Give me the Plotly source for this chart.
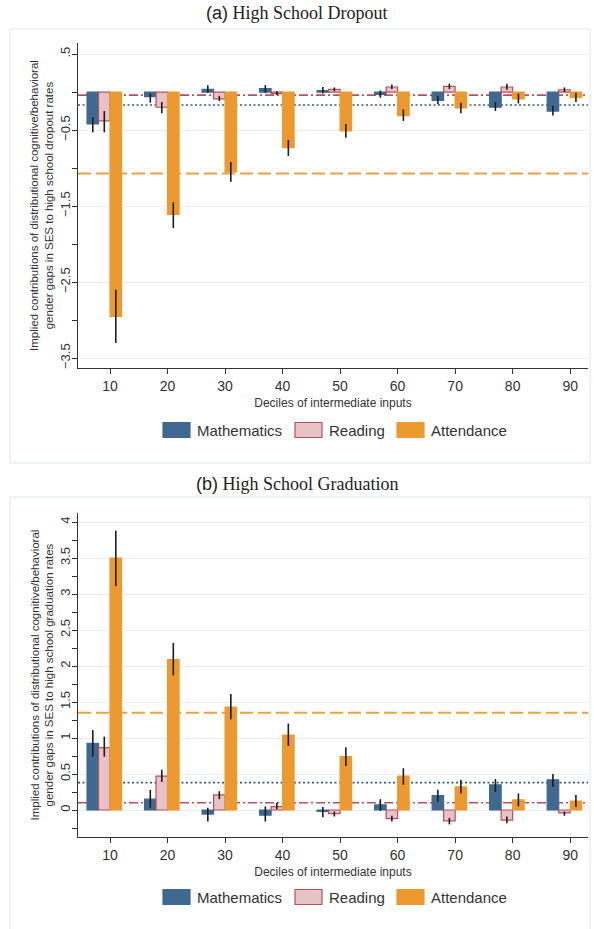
import plotly.graph_objects as go

# ---------------- data ----------------
deciles = [10, 20, 30, 40, 50, 60, 70, 80, 90]
series_names = ["Mathematics", "Reading", "Attendance"]

# (a) High School Dropout
math_a = [-0.42, -0.06, 0.035, 0.045, 0.02, -0.03, -0.11, -0.20, -0.25]
math_a_lo = [-0.53, -0.14, -0.01, -0.01, -0.02, -0.075, -0.16, -0.25, -0.31]
math_a_hi = [-0.33, -0.02, 0.09, 0.09, 0.065, 0.02, -0.05, -0.13, -0.18]
read_a = [-0.38, -0.20, -0.09, -0.02, 0.035, 0.066, 0.075, 0.066, 0.03]
read_a_lo = [-0.53, -0.28, -0.12, -0.04, 0.01, 0.04, 0.04, 0.03, 0.0]
read_a_hi = [-0.25, -0.13, -0.05, 0.01, 0.06, 0.10, 0.11, 0.11, 0.06]
att_a = [-2.95, -1.61, -1.05, -0.73, -0.51, -0.31, -0.21, -0.09, -0.075]
att_a_lo = [-3.30, -1.79, -1.18, -0.84, -0.60, -0.38, -0.28, -0.15, -0.13]
att_a_hi = [-2.60, -1.45, -0.92, -0.63, -0.42, -0.23, -0.14, -0.02, -0.01]
refs_a = [-0.17, -0.04, -1.07]  # Mathematics, Reading, Attendance

# (b) High School Graduation
math_b = [0.925, 0.15, -0.056, -0.07, -0.02, 0.07, 0.20, 0.35, 0.42]
math_b_lo = [0.74, 0.03, -0.16, -0.16, -0.10, -0.01, 0.115, 0.25, 0.32]
math_b_hi = [1.11, 0.28, 0.03, 0.05, 0.04, 0.15, 0.28, 0.43, 0.50]
read_b = [0.865, 0.47, 0.21, 0.046, -0.05, -0.12, -0.15, -0.14, -0.04]
read_b_lo = [0.74, 0.39, 0.15, 0.01, -0.09, -0.16, -0.20, -0.185, -0.08]
read_b_hi = [1.02, 0.56, 0.26, 0.10, -0.02, -0.08, -0.11, -0.09, -0.02]
att_b = [3.50, 2.09, 1.43, 1.04, 0.74, 0.47, 0.32, 0.14, 0.125]
att_b_lo = [3.11, 1.87, 1.26, 0.89, 0.61, 0.35, 0.23, 0.05, 0.04]
att_b_hi = [3.88, 2.32, 1.61, 1.20, 0.87, 0.58, 0.42, 0.23, 0.21]
refs_b = [0.38, 0.10, 1.35]

ytick_a_vals = [0.5, -0.5, -1.5, -2.5, -3.5]
ytick_a_text = [".5", "\u22120.5", "\u22121.5", "\u22122.5", "\u22123.5"]
ytick_a_minor = [0, -1, -2, -3]
ytick_b_vals = [0, 0.5, 1, 1.5, 2, 2.5, 3, 3.5, 4]
ytick_b_text = ["0", "0.5", "1", "1.5", "2", "2.5", "3", "3.5", "4"]
ytick_b_minor = [-0.25, 0.25, 0.75, 1.25, 1.75, 2.25, 2.75, 3.25, 3.75]

x_title = "Deciles of intermediate inputs"
y_titles = ["Implied contributions of distributional cognitive/behavioral<br>"
            "gender gaps in SES to high school dropout rates",
            "Implied contributions of distributional cognitive/behavioral<br>"
            "gender gaps in SES to high school graduation rates"]
titles = [("(a)", "High School Dropout"), ("(b)", "High School Graduation")]

# ---------------- style ----------------
W, H = 594, 929
fill_colors = ["#3f698e", "#e7c3c8", "#ec9a30"]
line_colors = ["#3f698e", "#b8505e", "#ec9a30"]
ref_dash = ["2px,2.5px", "9px,3px,2px,3px", "13px,5px"]
ref_colors = ["#2f5f8c", "#b8505e", "#efa040"]
ref_width = [1.6, 1.6, 2.0]
offsets = [-4, -2, 0]
XRANGE = [4.43, 93.1]
TXT = "#333333"
GRID = "#e6eef1"
SANS = "Liberation Sans, Arial, sans-serif"
SERIF = "Liberation Serif, Times New Roman, serif"


def xp(px):
    return px / W


def yp(py):
    return 1 - py / H


fig = go.Figure()

panels = [
    dict(vals=[math_a, read_a, att_a], lo=[math_a_lo, read_a_lo, att_a_lo],
         hi=[math_a_hi, read_a_hi, att_a_hi], refs=refs_a, xa="x", ya="y",
         top=43, bot=368, frame=(29, 463), title_y=13, legend_y=430),
    dict(vals=[math_b, read_b, att_b], lo=[math_b_lo, read_b_lo, att_b_lo],
         hi=[math_b_hi, read_b_hi, att_b_hi], refs=refs_b, xa="x2", ya="y2",
         top=513, bot=837, frame=(497, 935), title_y=484, legend_y=897),
]

for pi, p in enumerate(panels):
    for si, name in enumerate(series_names):
        v = p["vals"][si]
        up = [h - a for h, a in zip(p["hi"][si], v)]
        dn = [a - l for a, l in zip(v, p["lo"][si])]
        fig.add_trace(go.Bar(
            x=deciles, y=v, name=name, width=2, offset=offsets[si],
            marker=dict(color=fill_colors[si],
                        line=dict(color=line_colors[si], width=1.2)),
            error_y=dict(type="data", symmetric=False, array=up, arrayminus=dn,
                         width=0, thickness=1.6, color="#1c1c1c"),
            xaxis=p["xa"], yaxis=p["ya"], showlegend=False,
        ))
    # reference lines, drawn beneath the bars
    for si in range(3):
        fig.add_shape(type="line", xref=p["xa"], yref=p["ya"],
                      x0=XRANGE[0], x1=XRANGE[1], y0=p["refs"][si], y1=p["refs"][si],
                      line=dict(color=ref_colors[si], width=ref_width[si], dash=ref_dash[si]),
                      layer="below")

fig.update_layout(barmode="overlay")

xdom = [xp(78), xp(588)]
common_x = dict(range=XRANGE, tickvals=deciles, ticks="outside", ticklen=5,
                tickcolor=TXT, showline=True, linecolor=TXT, linewidth=1,
                showgrid=False, zeroline=False, domain=xdom,
                tickfont=dict(family=SANS, size=14, color=TXT),
                title=dict(text=x_title, standoff=5,
                           font=dict(family=SANS, size=12, color=TXT)))
common_y = dict(ticks="outside", ticklen=5, tickcolor=TXT, showline=True,
                linecolor=TXT, linewidth=1, showgrid=True, gridcolor=GRID,
                gridwidth=1, zeroline=False, tickangle=-90, ticklabelstandoff=-3,
                tickfont=dict(family=SANS, size=13, color=TXT))

fig.update_layout(
    width=W, height=H, margin=dict(l=0, r=0, t=0, b=0),
    paper_bgcolor="white", plot_bgcolor="rgba(0,0,0,0)",
    xaxis=dict(**common_x, anchor="y"),
    xaxis2=dict(**common_x, anchor="y2"),
    yaxis=dict(**common_y, anchor="x", range=[-3.63, 0.645],
               domain=[yp(368), yp(43)], tickvals=ytick_a_vals, ticktext=ytick_a_text,
               minor=dict(tickvals=ytick_a_minor, ticks="outside", ticklen=5,
                          tickcolor=TXT, showgrid=False)),
    yaxis2=dict(**common_y, anchor="x2", range=[-0.375, 4.125],
                domain=[yp(837), yp(513)], tickvals=ytick_b_vals, ticktext=ytick_b_text,
                minor=dict(tickvals=ytick_b_minor, ticks="outside", ticklen=5,
                           tickcolor=TXT, showgrid=False)),
)

sw_left = [163, 295, 397]
sw_w, sw_h = 27, 15
for pi, p in enumerate(panels):
    top, bot = p["frame"]
    fig.add_shape(type="rect", xref="paper", yref="paper",
                  x0=xp(10), x1=xp(590), y0=yp(bot), y1=yp(top),
                  line=dict(color="#dfe7eb", width=1), fillcolor="rgba(0,0,0,0)",
                  layer="below")
    lab, txt = titles[pi]
    fig.add_annotation(
        xref="paper", yref="paper", x=0.5, y=yp(p["title_y"]), showarrow=False,
        xanchor="center", yanchor="middle",
        text=f"<span style='font-family:{SANS}'>{lab}</span> {txt}",
        font=dict(family=SERIF, size=18, color="#222222"))
    # y-axis title
    fig.add_annotation(
        xref="paper", yref="paper", x=xp(41.5), y=yp((p["top"] + p["bot"]) / 2),
        showarrow=False, textangle=-90, xanchor="center", yanchor="middle",
        text=y_titles[pi], font=dict(family=SANS, size=11.5, color=TXT))
    # legend
    cy = p["legend_y"]
    for si, name in enumerate(series_names):
        fig.add_shape(type="rect", xref="paper", yref="paper",
                      x0=xp(sw_left[si]), x1=xp(sw_left[si] + sw_w),
                      y0=yp(cy + sw_h / 2), y1=yp(cy - sw_h / 2),
                      fillcolor=fill_colors[si],
                      line=dict(color=line_colors[si], width=1.2))
        fig.add_annotation(xref="paper", yref="paper", x=xp(sw_left[si] + sw_w + 5),
                           y=yp(cy), text=name, showarrow=False, xanchor="left",
                           yanchor="middle", font=dict(family=SANS, size=15, color=TXT))

fig.write_html("out.html", config={"displayModeBar": False},
               post_script="document.body.style.margin='0';document.body.style.overflow='hidden';")
